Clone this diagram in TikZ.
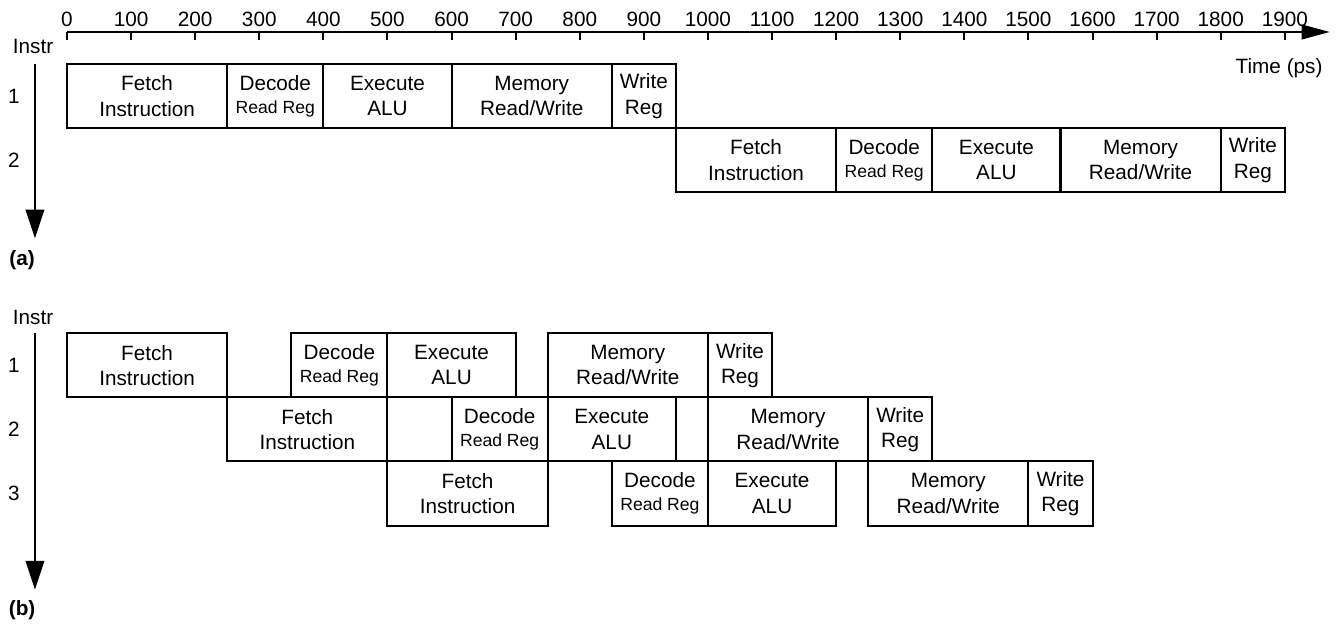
\documentclass[tikz,border=0pt]{standalone}
\usepackage{fontspec}
\setmainfont{Liberation Sans}
\usetikzlibrary{arrows.meta}

\newcommand{\bigtxt}{\fontsize{9.2}{11.2}\selectfont}
\newcommand{\smalltxt}{\fontsize{7.8}{9}\selectfont}

\begin{document}
\begin{tikzpicture}[>={Triangle[length=0.44cm,width=0.23cm]}, line width=0.9pt, font=\bigtxt]
  \useasboundingbox (-1.045,0.499) rectangle (19.845,-9.251);
  \tikzset{
    stage/.style={draw, rectangle, inner sep=0pt, outer sep=0pt, minimum height=1cm, anchor=north west, align=center},
    fetchst/.style={stage, minimum width=2.5cm},
    decst/.style={stage, minimum width=1.5cm},
    exest/.style={stage, minimum width=2cm},
    memst/.style={stage, minimum width=2.5cm},
    wrst/.style={stage, minimum width=1cm},
    instrarrow/.style={-{Triangle[length=0.45cm,width=0.29cm]}}
  }

  % Time axis
  \coordinate (t0) at (0,0);
  \coordinate (tend) at (19.7,0);
  \draw[->] (t0) -- (tend);
  \foreach \i [evaluate=\i as \ps using int(\i*100)] in {0,...,19} {
    \coordinate (tk\i) at (\i,0);
    \coordinate (tb\i) at (\i,-0.13);
    \draw (tk\i) -- (tb\i);
    \node (tl\i) at (\i,0.2) {\ps};
  }
  \node (tlabel) [anchor=east] at (19.72,-0.56) {Time (ps)};

  % (a) single-cycle
  \node (instra) at (-0.53,-0.23) {Instr};
  \node (ra1) at (-0.83,-1) {1};
  \node (ra2) at (-0.83,-2) {2};
  \coordinate (vatop) at (-0.5,-0.5);
  \coordinate (vabot) at (-0.5,-3.22);
  \draw[instrarrow] (vatop) -- (vabot);
  \node (capa) at (-0.7,-3.56) {\bfseries (a)};

  \node (fa1) [fetchst] at (0,-0.5) {Fetch\\Instruction};
  \node (da1) [decst] at (2.5,-0.5) {Decode\\[-1pt]\smalltxt Read Reg};
  \node (ea1) [exest] at (4,-0.5) {Execute\\ALU};
  \node (ma1) [memst] at (6,-0.5) {Memory\\Read/Write};
  \node (wa1) [wrst] at (8.5,-0.5) {Write\\Reg};

  \node (fa2) [fetchst] at (9.5,-1.5) {Fetch\\Instruction};
  \node (da2) [decst] at (12,-1.5) {Decode\\[-1pt]\smalltxt Read Reg};
  \node (ea2) [exest] at (13.5,-1.5) {Execute\\ALU};
  \node (ma2) [memst] at (15.5,-1.5) {Memory\\Read/Write};
  \node (wa2) [wrst] at (18,-1.5) {Write\\Reg};

  % (b) pipelined
  \node (instrb) at (-0.53,-4.45) {Instr};
  \node (rb1) at (-0.83,-5.2) {1};
  \node (rb2) at (-0.83,-6.2) {2};
  \node (rb3) at (-0.83,-7.2) {3};
  \coordinate (vbtop) at (-0.5,-4.7);
  \coordinate (vbbot) at (-0.5,-8.7);
  \draw[instrarrow] (vbtop) -- (vbbot);
  \node (capb) at (-0.7,-9.02) {\bfseries (b)};

  \node (fb1) [fetchst] at (0,-4.7) {Fetch\\Instruction};
  \node (db1) [decst] at (3.5,-4.7) {Decode\\[-1pt]\smalltxt Read Reg};
  \node (eb1) [exest] at (5,-4.7) {Execute\\ALU};
  \node (mb1) [memst] at (7.5,-4.7) {Memory\\Read/Write};
  \node (wb1) [wrst] at (10,-4.7) {Write\\Reg};

  \node (fb2) [fetchst] at (2.5,-5.7) {Fetch\\Instruction};
  \node (db2) [decst] at (6,-5.7) {Decode\\[-1pt]\smalltxt Read Reg};
  \node (eb2) [exest] at (7.5,-5.7) {Execute\\ALU};
  \node (mb2) [memst] at (10,-5.7) {Memory\\Read/Write};
  \node (wb2) [wrst] at (12.5,-5.7) {Write\\Reg};

  \node (fb3) [fetchst] at (5,-6.7) {Fetch\\Instruction};
  \node (db3) [decst] at (8.5,-6.7) {Decode\\[-1pt]\smalltxt Read Reg};
  \node (eb3) [exest] at (10,-6.7) {Execute\\ALU};
  \node (mb3) [memst] at (12.5,-6.7) {Memory\\Read/Write};
  \node (wb3) [wrst] at (15,-6.7) {Write\\Reg};
\end{tikzpicture}
\end{document}
